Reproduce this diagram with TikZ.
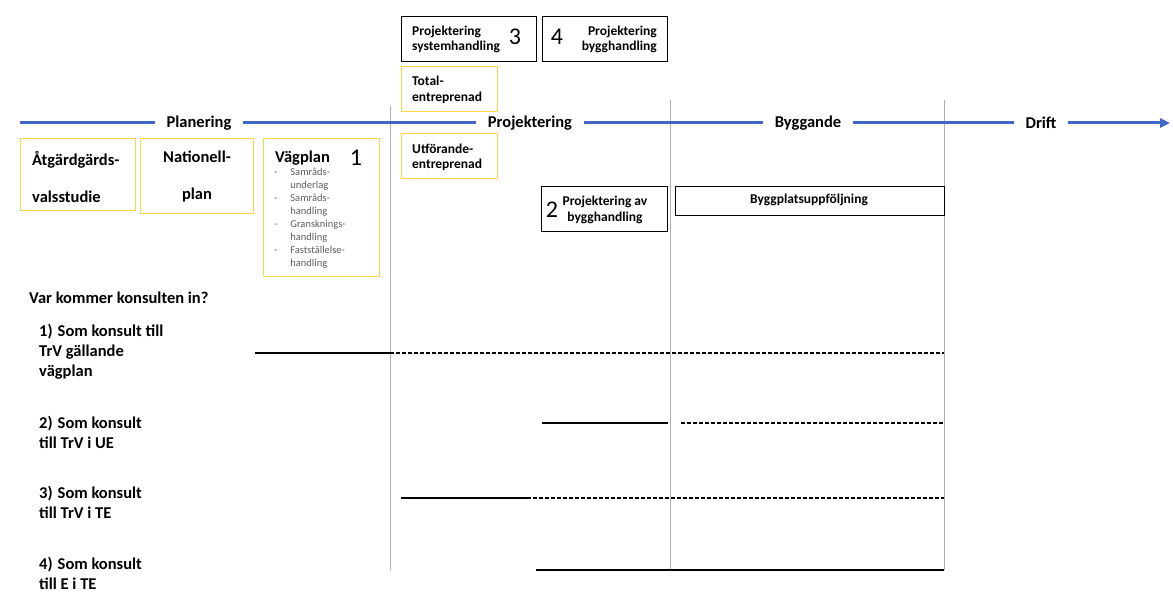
\documentclass[tikz,border=0pt]{standalone}
\usepackage{fontspec}
\setmainfont{Carlito}
\usetikzlibrary{arrows.meta,positioning}
\definecolor{planyellow}{RGB}{250,214,70}
\definecolor{timeblue}{RGB}{66,102,196}
\definecolor{gridgrey}{RGB}{175,175,175}
\definecolor{listgrey}{RGB}{95,95,95}
\newcommand{\fs}[2]{\fontsize{#1}{#2}\selectfont}

\begin{document}
\begin{tikzpicture}[x=1pt, y=-1pt,
    ybox/.style={draw=planyellow, line width=1.3pt, fill=white, inner sep=0pt},
    kbox/.style={draw=black, line width=1.1pt, fill=white, inner sep=0pt},
    phase/.style={fill=white, inner xsep=12pt, inner ysep=2pt, font=\fs{16.5}{19}\bfseries},
    bigtxt/.style={inner sep=0pt, font=\fs{16.5}{20}\bfseries},
    boxtxt/.style={inner sep=0pt, font=\fs{13.5}{15.5}\bfseries},
    num/.style={inner sep=0pt, font=\fs{24}{24}},
    gridline/.style={draw=gridgrey, line width=0.8pt},
    solidline/.style={draw=black, line width=1.6pt},
    dashline/.style={draw=black, line width=1.6pt, dash pattern=on 4pt off 2pt}
]
    \useasboundingbox[fill=white] (0,0) rectangle (1173,593);

    % phase borders
    \foreach \x/\t in {390/106, 670/100, 944/100}
        \draw[gridline] (\x,\t) -- (\x,570);

    % time line with the four phases
    \draw[timeblue, line width=3pt, -{Triangle[length=10pt,width=9pt]}] (20,123) -- (1170,123);
    \node[phase] (plan) at (199,123) {Planering};
    \node[phase] (proj) at (530,123) {Projektering};
    \node[phase] (bygg) at (808,123) {Byggande};
    \node[phase] (drift) at (1041,123) {Drift};

    % planning documents
    \node[ybox, minimum width=115, minimum height=72, anchor=north west] (atg) at (20,138) {};
    \node[bigtxt, align=left, anchor=west, font=\fs{16.5}{19}\bfseries] (atgtxt) at (32,176.5) {Åtgärdgärds-\\[18pt]valsstudie};
    \node[ybox, minimum width=113, minimum height=75, anchor=north west] (nat) at (140,138) {};
    \node[bigtxt, align=center, font=\fs{16.5}{19}\bfseries] (nattxt) at (197,176.5) {Nationell-\\[18pt]plan};
    \node[ybox, minimum width=116, minimum height=138, anchor=north west] (vag) at (263,138) {};
    \node[bigtxt, anchor=west] (vagtxt) at (275,158) {Vägplan};
    \node[num] (n1) at (356,158) {1};
    \node[inner sep=0pt, anchor=west, text=listgrey, font=\fs{10.5}{13}] (vaglist) at (274,218) {%
        \begin{tabular}{@{}l@{\hspace{13pt}}l@{}}
        - & Samråds-\\
          & underlag\\
        - & Samråds-\\
          & handling\\
        - & Gransknings-\\
          & handling\\
        - & Fastställelse-\\
          & handling
        \end{tabular}};

    % contract forms
    \node[ybox, minimum width=96, minimum height=45, anchor=north west] (te) at (401,66) {};
    \node[boxtxt, align=left, anchor=west, font=\fs{13.5}{16}\bfseries] (tetxt) at (412,90) {Total-\\entreprenad};
    \node[ybox, minimum width=96, minimum height=45, anchor=north west] (ue) at (401,133) {};
    \node[boxtxt, align=left, anchor=west, font=\fs{13.5}{15}\bfseries] (uetxt) at (412,157.5) {Utförande-\\entreprenad};

    % design and construction tasks
    \node[kbox, minimum width=135, minimum height=45, anchor=north west] (sys) at (401,16) {};
    \node[boxtxt, align=left, anchor=west] (systxt) at (412,39.5) {Projektering\\systemhandling};
    \node[num] (n3) at (515,37) {3};
    \node[kbox, minimum width=125, minimum height=45, anchor=north west] (byh) at (542,16) {};
    \node[boxtxt, align=right, anchor=east] (byhtxt) at (657,39.5) {Projektering\\bygghandling};
    \node[num] (n4) at (557,37) {4};
    \node[kbox, minimum width=126, minimum height=45, anchor=north west] (prb) at (541,186) {};
    \node[boxtxt, align=center] (prbtxt) at (605,210) {Projektering av\\bygghandling};
    \node[num] (n2) at (552,210) {2};
    \node[kbox, minimum width=269, minimum height=29, anchor=north west] (bpu) at (675,186) {};
    \node[boxtxt] (bputxt) at (809,200) {Byggplatsuppföljning};

    % where the consultant comes in
    \node[bigtxt, anchor=west] (fraga) at (29,298) {Var kommer konsulten in?};
    \node[bigtxt, align=left, anchor=west] (fall1) at (39,352) {1)\hspace{5pt}Som konsult till\\TrV gällande\\vägplan};
    \node[bigtxt, align=left, anchor=west] (fall2) at (39,432.5) {2)\hspace{5pt}Som konsult\\till TrV i UE};
    \node[bigtxt, align=left, anchor=west] (fall3) at (39,502) {3)\hspace{5pt}Som konsult\\till TrV i TE};
    \node[bigtxt, align=left, anchor=west] (fall4) at (39,573) {4)\hspace{5pt}Som konsult\\till E i TE};

    % solid part: direct assignment, dashed part: possible continuation
    \foreach \y/\a/\b/\c in {353/255/390/390, 423/542/668/681, 498/401/531/533} {
        \draw[solidline] (\a,\y) -- (\b,\y);
        \draw[dashline] (\c,\y) -- (944,\y);
    }
    \draw[solidline] (536,570) -- (944,570);
\end{tikzpicture}
\end{document}
